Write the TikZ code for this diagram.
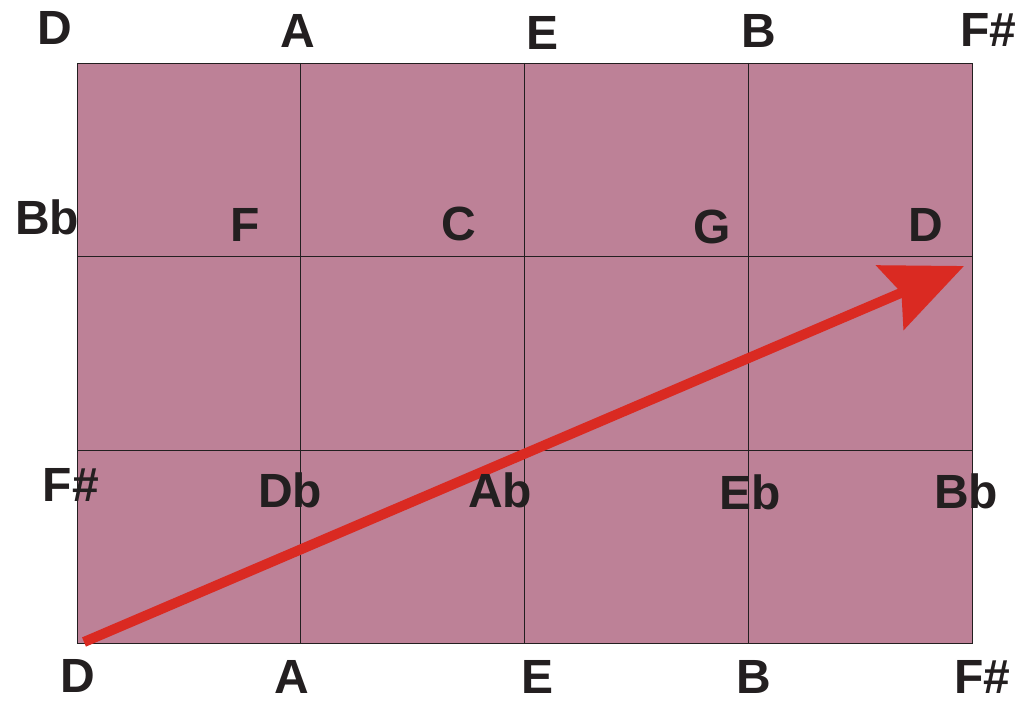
\documentclass[tikz,border=0pt]{standalone}
\usepackage{fontspec}
\setmainfont{Liberation Sans}
\usetikzlibrary{arrows.meta}
\definecolor{mauve}{HTML}{BD8197}
\definecolor{arrowred}{HTML}{DA2A22}
\definecolor{ink}{HTML}{231F20}
\tikzset{
  lbl/.style={anchor=base, inner sep=0pt, text depth=0pt, text=ink, font=\fontsize{48}{48}\selectfont\bfseries},
  gridline/.style={draw=ink, line width=0.8pt},
  bigarrow/.style={draw=arrowred, line width=10pt, -{Stealth[length=80pt,width=69pt,inset=12pt,fill=arrowred]}}
}
\begin{document}
\begin{tikzpicture}[x=1pt,y=-1pt]
\useasboundingbox (0,0) rectangle (1034,703);
% grid
\fill[mauve] (77,63) rectangle (972,643);
\foreach \x in {300,524,748} \draw[gridline] (\x,63) -- (\x,643);
\foreach \y in {256,450} \draw[gridline] (77,\y) -- (972,\y);
\draw[gridline] (77,63) rectangle (972,643);
% arrow
\coordinate (s) at (84,642);
\coordinate (t) at (964,266);
\draw[bigarrow] (s) -- (t);
% top labels
\node[lbl] (t1) at (55,45) {D};
\node[lbl] (t2) at (298,48) {A};
\node[lbl] (t3) at (543,50) {E};
\node[lbl] (t4) at (759,48) {B};
\node[lbl] (t5) at (988,47) {F\#};
% second row
\node[lbl] (m1) at (47,235) {Bb};
\node[lbl] (m2) at (245,242) {F};
\node[lbl] (m3) at (459,241) {C};
\node[lbl] (m4) at (712,244) {G};
\node[lbl] (m5) at (926,242) {D};
% third row
\node[lbl] (n1) at (71,501) {F\#};
\node[lbl] (n2) at (290,507) {Db};
\node[lbl] (n3) at (500,507) {Ab};
\node[lbl] (n4) at (750,509) {Eb};
\node[lbl] (n5) at (966,508) {Bb};
% bottom labels
\node[lbl] (b1) at (78,692) {D};
\node[lbl] (b2) at (292,693) {A};
\node[lbl] (b3) at (538,693) {E};
\node[lbl] (b4) at (754,693) {B};
\node[lbl] (b5) at (982,693) {F\#};
\end{tikzpicture}
\end{document}
